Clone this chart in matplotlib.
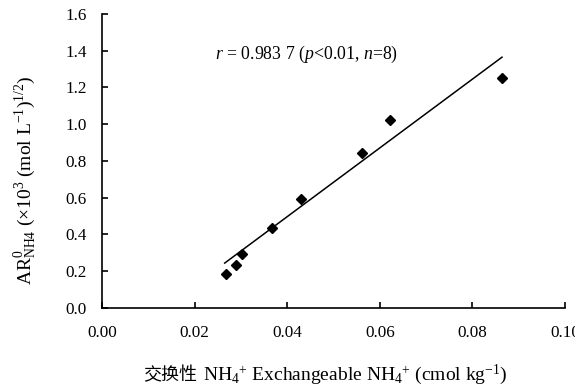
import numpy as np
import matplotlib
matplotlib.use('Agg')
import matplotlib.pyplot as plt

# data
exch_nh4 = [0.0268, 0.0290, 0.0302, 0.0368, 0.0429, 0.0561, 0.0623, 0.0865]
ar0_nh4 = [0.185, 0.236, 0.294, 0.437, 0.594, 0.846, 1.024, 1.250]
fit_slope = 18.71
fit_intercept = -0.2514
fit_x = [0.0265, 0.0864]
r_text = r'$r$ = 0.983 7 ($p$<0.01, $n$=8)'

xticks = [0.00, 0.02, 0.04, 0.06, 0.08, 0.10]
yticks = [0.0, 0.2, 0.4, 0.6, 0.8, 1.0, 1.2, 1.4, 1.6]

plt.rcParams['font.family'] = 'Liberation Serif'
plt.rcParams['mathtext.fontset'] = 'custom'
plt.rcParams['mathtext.rm'] = 'Liberation Serif'
plt.rcParams['mathtext.it'] = 'Liberation Serif:italic'
plt.rcParams['mathtext.bf'] = 'Liberation Serif:bold'

fig = plt.figure(figsize=(5.75, 3.91), dpi=100)
ax = fig.add_axes([0.1774, 0.2123, 0.8052, 0.7519])

ax.plot(exch_nh4, ar0_nh4, linestyle='none', marker='D', markersize=5,
        color='black')
fx = np.array(fit_x)
ax.plot(fx, fit_slope * fx + fit_intercept, color='black', lw=1.1)

ax.text(0.0244, 1.382, r_text, fontsize=12.8, va='center', ha='left')

ax.set_xlim(0, 0.10)
ax.set_ylim(0, 1.6)
ax.set_xticks(xticks)
ax.set_xticklabels(['%.2f' % v for v in xticks])
ax.set_yticks(yticks)
ax.set_yticklabels(['%.1f' % v for v in yticks])
ax.tick_params(direction='in', length=4, width=1.2, labelsize=12.3)
ax.tick_params(axis='x', pad=12)
ax.tick_params(axis='y', pad=11)
for s in ['top', 'right']:
    ax.spines[s].set_visible(False)
for s in ['left', 'bottom']:
    ax.spines[s].set_linewidth(1.2)

# y label
fig.text(25 / 575, 1 - 180 / 391,
         r'AR$^{0}_{\mathrm{NH4}}$ ($\times$10$^{3}$ (mol L$^{-1}$)$^{1/2}$)',
         rotation=90, ha='center', va='center', fontsize=14)

# x label: Chinese part + math part
xl_y = 1 - 375 / 391
cjk = fig.text(143 / 575, xl_y, '交换性', family='Noto Sans CJK SC',
               fontsize=13, ha='left', va='center')
fig.canvas.draw()
bb = cjk.get_window_extent()
fig.text(bb.x1 / 575 + 0.01, xl_y,
         r'NH$_{4}{}^{+}$ Exchangeable NH$_{4}{}^{+}$ (cmol kg$^{-1}$)',
         fontsize=14, ha='left', va='center')

fig.savefig('out.png', dpi=100)
